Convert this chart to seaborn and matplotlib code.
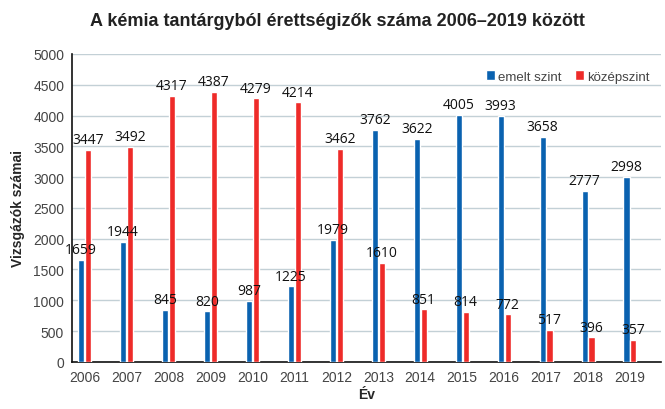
import pandas as pd
import seaborn as sns
import matplotlib.pyplot as plt

# Data
years = ["2006", "2007", "2008", "2009", "2010", "2011", "2012",
         "2013", "2014", "2015", "2016", "2017", "2018", "2019"]
emelt = [1659, 1944, 845, 820, 987, 1225, 1979, 3762, 3622, 4005, 3993, 3658, 2777, 2998]
kozep = [3447, 3492, 4317, 4387, 4279, 4214, 3462, 1610, 851, 814, 772, 517, 396, 357]
levels = ["emelt szint", "középszint"]

df = pd.DataFrame({
    "ev": years * 2,
    "szint": [levels[0]] * len(years) + [levels[1]] * len(years),
    "db": emelt + kozep,
})

colours = {"emelt szint": "#0a62b0", "középszint": "#ee2b29"}

sns.set_style("white")
plt.rcParams["font.family"] = ["Liberation Sans", "DejaVu Sans"]

fig = plt.figure(figsize=(6.65, 4.1), dpi=100)
ax = fig.add_axes([0.109, 0.115, 0.885, 0.751])

sns.barplot(data=df, x="ev", y="db", hue="szint", palette=colours,
            saturation=1, width=0.33, gap=0.12, ax=ax, zorder=3)

# value labels above each bar
for cont in ax.containers:
    ax.bar_label(cont, padding=2, fontsize=10, color="#111111",
                 family=["Open Sans", "DejaVu Sans"])

ax.set_ylim(0, 5000)
ax.set_yticks(range(0, 5001, 500))
ax.set_xlim(-0.29, 13.74)
ax.yaxis.grid(True, color="#c3d0d6", linewidth=1.0, zorder=0)
ax.set_axisbelow(True)

for s in ["top", "right"]:
    ax.spines[s].set_visible(False)
for s in ["left", "bottom"]:
    ax.spines[s].set_color("#111111")
    ax.spines[s].set_linewidth(1.2)

ax.tick_params(axis="both", labelsize=10, labelcolor="#444444", length=0, pad=6)

ax.set_xlabel("Év", fontsize=10, fontweight="bold", labelpad=2)
ax.set_ylabel("Vizsgázók számai", fontsize=10, fontweight="bold", labelpad=6)
fig.text(0.508, 0.948, "A kémia tantárgyból érettségizők száma 2006–2019 között",
         ha="center", va="center", fontsize=13, fontweight="bold", color="#222222")

ax.legend(loc="upper right", bbox_to_anchor=(1.0, 0.985), ncol=2, frameon=False,
          fontsize=9.5, handlelength=0.7, handleheight=0.7, handletextpad=0.2,
          columnspacing=1.0, labelcolor="#444444")

fig.savefig("out.png", dpi=100)
